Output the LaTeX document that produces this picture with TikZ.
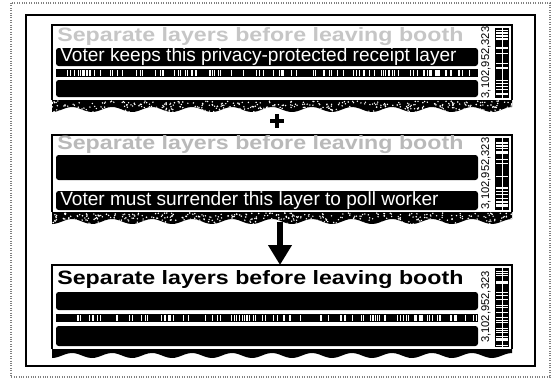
\documentclass[tikz,border=0pt]{standalone}
\usepackage{fontspec}
\setmainfont{Liberation Sans}
\usetikzlibrary{arrows.meta}

\begin{document}
\begin{tikzpicture}[x=0.75pt, y=-0.75pt,
    slip/.style={line width=1.1pt},
    bar/.style={fill=black, rounded corners=2pt},
    slipnote/.style={anchor=west, text=white, inner sep=0pt,
      font=\fontsize{14.3}{14.3}\selectfont},
    sliphead/.style={anchor=west, inner sep=0pt, xscale=1.2,
      font=\bfseries\fontsize{14.5}{14.5}\selectfont}]
  \useasboundingbox (0,0) rectangle (554,379);
  \pgfmathsetseed{17}

  % Outer and inner frames
  \draw[gray, densely dotted, line width=0.8pt] (11,3) rectangle (550,377);
  \draw[line width=1.2pt] (26,15) rectangle (535,366);

  % Receipt outlines, side codes and serial numbers
  \foreach \t/\b in {25/100, 135/212, 265/349} {
    \draw[slip] (52,\b) -- (52,\t) -- (512,\t) -- (512,\b);
    \fill (495,\t+3) rectangle (509,\b-2);
    \foreach \i in {1,...,26}
      \fill[white] (495.8,{\t+4+rnd*(\b-\t-8)}) rectangle ++(12.4,0.9);
    \fill[white] (501.8,\t+3) rectangle (502.6,\b-2);
    \node[rotate=90, inner sep=0pt, font=\fontsize{8.4}{8.4}\selectfont]
      (num-\t) at (486,{(\t+\b)/2}) {3,102,952,323};
  }

  % Black layers
  \fill[bar] (56,48) rectangle (478,66);
  \fill[bar] (56,80) rectangle (478,97);
  \fill[bar] (56,155) rectangle (478,180);
  \fill[bar] (56,191) rectangle (478,210);
  \fill[bar] (56,292) rectangle (478,310);
  \fill[bar] (56,326) rectangle (478,346);

  % Barcode strips
  \foreach \y in {69, 314} {
    \fill (56,\y) rectangle (478,\y+8);
    \foreach \i in {1,...,110}
      \fill[white] ({56.5+rnd*421},\y+0.9) rectangle ++(0.6,6.2);
  }

  % Speckled tear-off edges
  \foreach \b in {100, 212} {
    \begin{scope}
      \clip (52,\b) -- (512,\b)
        -- plot[domain=512:52, samples=140] (\x,{\b+9.5+2.5*cos((\x-52)*9)})
        -- cycle;
      \fill (40,\b) rectangle (520,\b+14);
      \foreach \i in {1,...,450}
        \fill[white] ({52+rnd*460},{\b+1+rnd*12}) circle (0.8);
    \end{scope}
  }
  % Plain tear-off edge
  \fill (52,349) -- (512,349)
    -- plot[domain=512:52, samples=140] (\x,{355.5+2.5*cos((\x-52)*9)})
    -- cycle;

  % Texts
  \node[sliphead, text=gray!45] (head-keep) at (57,37)
    {Separate layers before leaving booth};
  \node[slipnote] (note-keep) at (60,57)
    {Voter keeps this privacy-protected receipt layer};
  \node[sliphead, text=gray!55] (head-surr) at (57,145)
    {Separate layers before leaving booth};
  \node[slipnote] (note-surr) at (60,200.5)
    {Voter must surrender this layer to poll worker};
  \node[sliphead] (head-final) at (57,280)
    {Separate layers before leaving booth};

  % Plus sign
  \coordinate (plus) at (277,121);
  \draw[line width=3.4pt] ([xshift=-5pt]plus) -- ([xshift=5pt]plus);
  \draw[line width=3.4pt] ([yshift=-5pt]plus) -- ([yshift=5pt]plus);

  % Arrow to the combined receipt
  \coordinate (tear) at (280,222);
  \coordinate (final) at (280,265);
  \draw[line width=3.8pt, -{Triangle[length=15pt, width=17pt]}] (tear) -- (final);
\end{tikzpicture}
\end{document}
